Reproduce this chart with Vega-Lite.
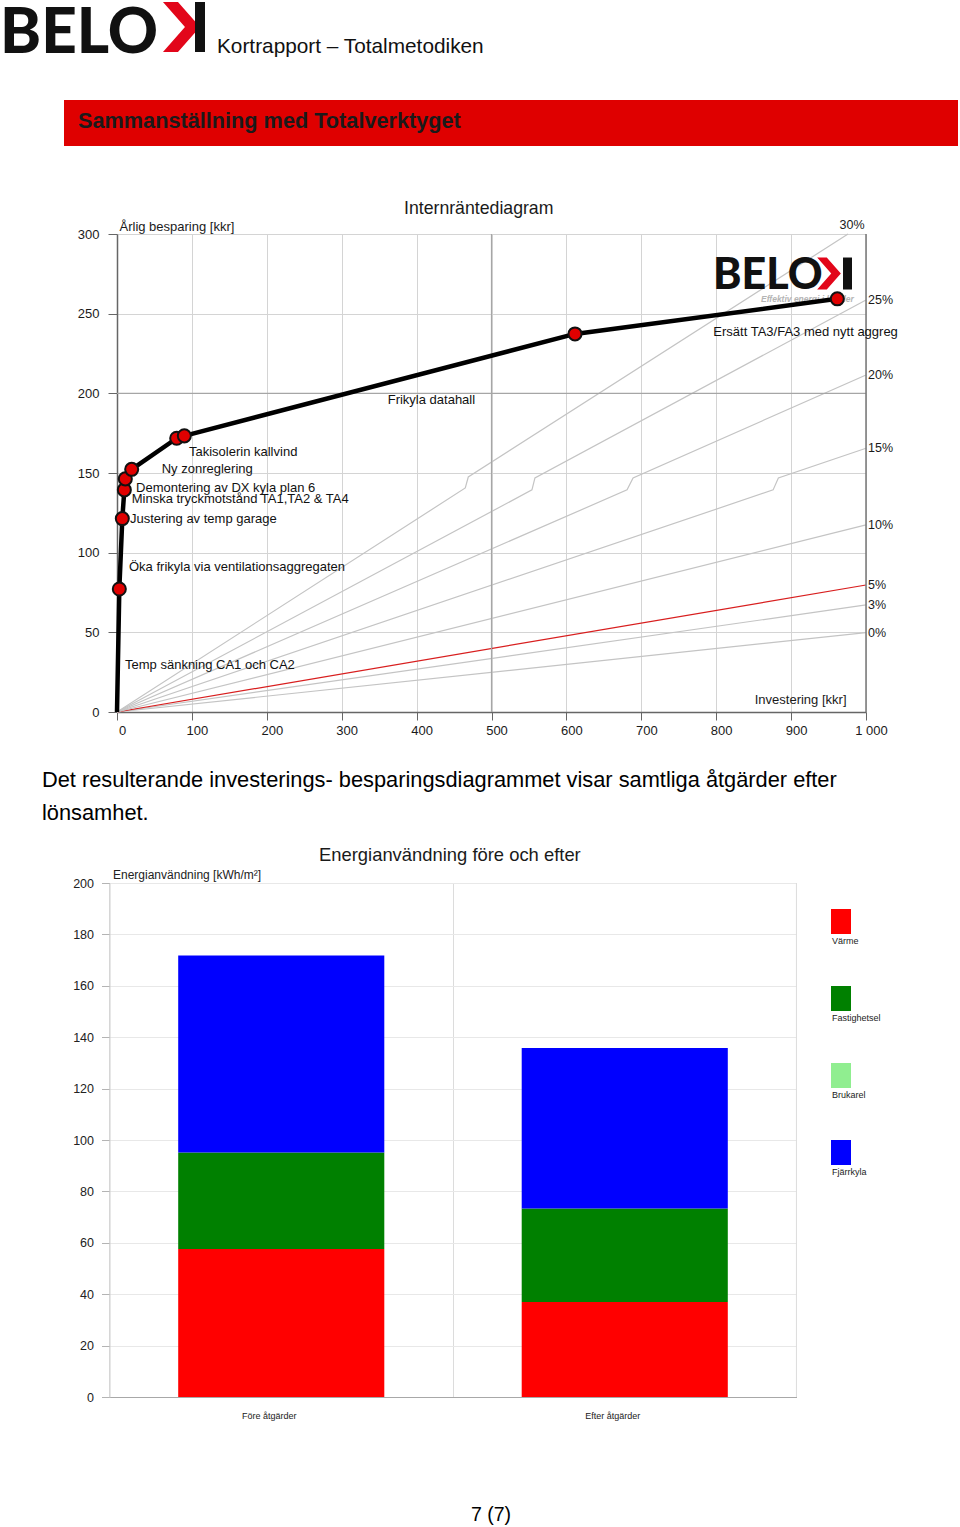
{
  "$schema": "https://vega.github.io/schema/vega-lite/v6.json",
  "padding": 0,
  "background": "white",
  "bounds": "flush",
  "spacing": 0,
  "resolve": {"scale": {"color": "independent"}},
  "config": {
    "view": {"stroke": null},
    "font": "Liberation Sans",
    "text": {"font": "Liberation Sans"},
    "axis": {"labelFont": "Liberation Sans", "titleFont": "Liberation Sans"}
  },
  "datasets": {
    "irr": [
      {"rate": "0%", "inv": 0, "sav": 0}, {"rate": "0%", "inv": 1000, "sav": 49.8},
      {"rate": "3%", "inv": 0, "sav": 0}, {"rate": "3%", "inv": 1000, "sav": 67.2},
      {"rate": "5%", "inv": 0, "sav": 0}, {"rate": "5%", "inv": 1000, "sav": 79.7},
      {"rate": "10%", "inv": 0, "sav": 0}, {"rate": "10%", "inv": 1000, "sav": 117.4},
      {"rate": "15%", "inv": 0, "sav": 0}, {"rate": "15%", "inv": 876, "sav": 139.4}, {"rate": "15%", "inv": 883, "sav": 146.9}, {"rate": "15%", "inv": 1000, "sav": 165.5},
      {"rate": "20%", "inv": 0, "sav": 0}, {"rate": "20%", "inv": 681, "sav": 139.4}, {"rate": "20%", "inv": 689, "sav": 146.9}, {"rate": "20%", "inv": 1000, "sav": 211.5},
      {"rate": "25%", "inv": 0, "sav": 0}, {"rate": "25%", "inv": 554, "sav": 139.4}, {"rate": "25%", "inv": 558, "sav": 146.9}, {"rate": "25%", "inv": 1000, "sav": 258.6},
      {"rate": "30%", "inv": 0, "sav": 0}, {"rate": "30%", "inv": 465, "sav": 140.6}, {"rate": "30%", "inv": 469, "sav": 147.5}, {"rate": "30%", "inv": 976, "sav": 300}
    ],
    "irrLabels": [
      {"rate": "30%", "inv": 962, "sav": 305.7},
      {"rate": "25%", "inv": 1000, "sav": 258.6},
      {"rate": "20%", "inv": 1000, "sav": 211.5},
      {"rate": "15%", "inv": 1000, "sav": 165.9},
      {"rate": "10%", "inv": 1000, "sav": 117.4},
      {"rate": "5%", "inv": 1000, "sav": 79.7},
      {"rate": "3%", "inv": 1000, "sav": 67.2},
      {"rate": "0%", "inv": 1000, "sav": 49.8}
    ],
    "path": [
      {"measure": "Start", "inv": 0, "sav": 0},
      {"measure": "Temp sänkning CA1 och CA2", "inv": 3.1, "sav": 77.2},
      {"measure": "Öka frikyla via ventilationsaggregaten", "inv": 7.1, "sav": 121.4},
      {"measure": "Justering av temp garage", "inv": 9.8, "sav": 139.4},
      {"measure": "Minska tryckmotstånd TA1,TA2 & TA4", "inv": 11.1, "sav": 146.3},
      {"measure": "Demontering av DX kyla plan 6", "inv": 19.6, "sav": 152.3},
      {"measure": "Ny zonreglering", "inv": 79.7, "sav": 171.8},
      {"measure": "Takisolerin kallvind", "inv": 89.9, "sav": 173.3},
      {"measure": "Frikyla datahall", "inv": 611.5, "sav": 237.3},
      {"measure": "Ersätt TA3/FA3 med nytt aggreg", "inv": 961.7, "sav": 259.3}
    ],
    "labels": [
      {"label": "Temp sänkning CA1 och CA2", "inv": 10.7, "sav": 29.5},
      {"label": "Öka frikyla via ventilationsaggregaten", "inv": 16.0, "sav": 91.0},
      {"label": "Justering av temp garage", "inv": 17.4, "sav": 121.1},
      {"label": "Minska tryckmotstånd TA1,TA2 & TA4", "inv": 19.6, "sav": 133.7},
      {"label": "Demontering av DX kyla plan 6", "inv": 25.4, "sav": 140.4},
      {"label": "Ny zonreglering", "inv": 59.7, "sav": 152.5},
      {"label": "Takisolerin kallvind", "inv": 96.1, "sav": 163.4},
      {"label": "Frikyla datahall", "inv": 361.4, "sav": 195.8},
      {"label": "Ersätt TA3/FA3 med nytt aggreg", "inv": 796.2, "sav": 238.7}
    ],
    "energy": [
      {"period": "Före åtgärder", "category": "Värme", "value": 57.6},
      {"period": "Före åtgärder", "category": "Fastighetsel", "value": 37.5},
      {"period": "Före åtgärder", "category": "Brukarel", "value": 0},
      {"period": "Före åtgärder", "category": "Fjärrkyla", "value": 76.7},
      {"period": "Efter åtgärder", "category": "Värme", "value": 37.0},
      {"period": "Efter åtgärder", "category": "Fastighetsel", "value": 36.3},
      {"period": "Efter åtgärder", "category": "Brukarel", "value": 0},
      {"period": "Efter åtgärder", "category": "Fjärrkyla", "value": 62.5}
    ],
    "categories": [
      {"category": "Värme", "rank": 1},
      {"category": "Fastighetsel", "rank": 2},
      {"category": "Brukarel", "rank": 3},
      {"category": "Fjärrkyla", "rank": 4}
    ]
  },
  "vconcat": [
    {
      "width": 960,
      "height": 234,
      "data": {"values": [{"banner": "Sammanställning med Totalverktyget", "header": "Kortrapport – Totalmetodiken", "logo": "BELO"}]},
      "encoding": {
        "x": {"datum": 0, "type": "quantitative", "scale": {"domain": [0, 1], "range": [64, 958]}, "axis": null},
        "y": {"datum": 0, "type": "quantitative", "scale": {"domain": [0, 1], "range": [146, 100]}, "axis": null}
      },
      "layer": [
        {"mark": {"type": "rect", "color": "#df0000"}, "encoding": {"x2": {"datum": 1}, "y2": {"datum": 1}}},
        {"mark": {"type": "text", "align": "left", "baseline": "alphabetic", "dx": 14, "dy": -18, "fontSize": 21.7, "fontWeight": "bold", "color": "#1a1a1a"}, "encoding": {"text": {"field": "banner"}}},
        {"mark": {"type": "text", "align": "left", "baseline": "alphabetic", "dx": 153, "dy": -93, "fontSize": 20.8, "color": "#111111"}, "encoding": {"text": {"field": "header"}}},
        {"mark": {"type": "text", "align": "left", "baseline": "alphabetic", "dx": -64, "dy": -93.5, "fontSize": 62, "fontWeight": 900, "font": "Lato", "color": "#111111"}, "encoding": {"text": {"field": "logo"}}},
        {"mark": {"type": "point", "shape": "M-0.74,-1L-0.14,-1L0.74,0L-0.14,1L-0.74,1L0.14,0Z", "size": 2500, "filled": true, "opacity": 1, "color": "#e2061a", "strokeWidth": 0}, "encoding": {"x": {"datum": 0.1314, "type": "quantitative"}, "y": {"datum": 2.587, "type": "quantitative"}}},
        {"mark": {"type": "point", "shape": "M-0.2,-1H0.2V1H-0.2Z", "size": 2500, "filled": true, "opacity": 1, "color": "#111111", "strokeWidth": 0}, "encoding": {"x": {"datum": 0.1521, "type": "quantitative"}, "y": {"datum": 2.587, "type": "quantitative"}}}
      ]
    },
    {
      "width": 866,
      "height": 478,
      "title": {"text": "Internräntediagram", "anchor": "start", "frame": "group", "dx": 404, "offset": 1, "fontSize": 17.7, "fontWeight": "normal", "color": "#1a1a1a", "font": "Liberation Sans"},
      "layer": [
        {
          "data": {"name": "irr"},
          "mark": {"type": "line", "strokeWidth": 1.2},
          "encoding": {
            "x": {"field": "inv", "type": "quantitative", "scale": {"domain": [0, 1000], "range": [117, 866], "nice": false, "zero": false},
              "axis": {"values": [0, 100, 200, 300, 400, 500, 600, 700, 800, 900, 1000], "labelExpr": "datum.value == 1000 ? '1 000' : datum.label", "tickSize": 8, "tickColor": "#666666", "domainColor": "#666666", "domainWidth": 1.5, "labelFontSize": 13, "labelColor": "#1a1a1a", "labelPadding": 4, "labelOffset": 5, "labelFlush": false, "labelOverlap": false, "grid": true, "gridColor": "#d4d4d4", "title": "Investering [kkr]", "titleX": 846, "titleY": -13, "titleAlign": "right", "titleBaseline": "middle", "titleFontSize": 13, "titleFontWeight": "normal", "titleColor": "#1a1a1a"}},
            "y": {"field": "sav", "type": "quantitative", "scale": {"domain": [0, 300], "nice": false},
              "axis": {"orient": "left", "offset": -117, "values": [0, 50, 100, 150, 200, 250, 300], "tickSize": 9, "tickColor": "#666666", "domainColor": "#666666", "domainWidth": 1.5, "labelFontSize": 13, "labelColor": "#1a1a1a", "labelPadding": 9, "labelFlush": false, "grid": true, "gridColor": "#d4d4d4", "title": "Årlig besparing [kkr]", "titleAngle": 0, "titleX": 2, "titleY": -8, "titleAlign": "left", "titleBaseline": "middle", "titleFontSize": 13, "titleFontWeight": "normal", "titleColor": "#1a1a1a"}},
            "detail": {"field": "rate"},
            "color": {"field": "rate", "type": "nominal", "scale": {"domain": ["0%", "3%", "5%", "10%", "15%", "20%", "25%", "30%"], "range": ["#c4c4c4", "#c4c4c4", "#d81e1e", "#c4c4c4", "#c4c4c4", "#c4c4c4", "#c4c4c4", "#c4c4c4"]}, "legend": null}
          }
        },
        {
          "data": {"values": [{}]},
          "mark": {"type": "rule", "color": "#a6a6a6", "strokeWidth": 1.2},
          "encoding": {"x": {"datum": 500, "type": "quantitative"}, "y": {"datum": 0, "type": "quantitative"}, "y2": {"datum": 300}}
        },
        {
          "data": {"values": [{}]},
          "mark": {"type": "rule", "color": "#a6a6a6", "strokeWidth": 1.2},
          "encoding": {"y": {"datum": 200, "type": "quantitative"}, "x": {"datum": 0, "type": "quantitative"}, "x2": {"datum": 1000}}
        },
        {
          "data": {"values": [{}]},
          "mark": {"type": "rule", "color": "#777777", "strokeWidth": 1.5},
          "encoding": {"x": {"datum": 1000, "type": "quantitative"}, "y": {"datum": 0, "type": "quantitative"}, "y2": {"datum": 300}}
        },
        {
          "data": {"values": [{}]},
          "layer": [
            {"mark": {"type": "text", "align": "left", "baseline": "alphabetic", "fontSize": 43, "fontWeight": 900, "font": "Lato", "color": "#111111"}, "encoding": {"x": {"datum": 795.7, "type": "quantitative"}, "y": {"datum": 265.5, "type": "quantitative"}, "text": {"value": "BELO"}}},
            {"mark": {"type": "point", "shape": "M-0.74,-1L-0.14,-1L0.74,0L-0.14,1L-0.74,1L0.14,0Z", "size": 1024, "filled": true, "opacity": 1, "color": "#e2061a", "strokeWidth": 0}, "encoding": {"x": {"datum": 950.6, "type": "quantitative"}, "y": {"datum": 275.2, "type": "quantitative"}}},
            {"mark": {"type": "point", "shape": "M-0.28,-1H0.28V1H-0.28Z", "size": 1024, "filled": true, "opacity": 1, "color": "#111111", "strokeWidth": 0}, "encoding": {"x": {"datum": 975.3, "type": "quantitative"}, "y": {"datum": 275.2, "type": "quantitative"}}},
            {"mark": {"type": "text", "align": "left", "baseline": "alphabetic", "dx": 48, "dy": 13, "fontSize": 8.5, "fontWeight": "bold", "fontStyle": "italic", "color": "#b4b4b4"}, "encoding": {"x": {"datum": 795.7, "type": "quantitative"}, "y": {"datum": 265.5, "type": "quantitative"}, "text": {"value": "Effektiv energi i lokaler"}}}
          ]
        },
        {
          "data": {"name": "path"},
          "mark": {"type": "line", "color": "#000000", "strokeWidth": 4.5, "strokeJoin": "round"},
          "encoding": {"x": {"field": "inv", "type": "quantitative"}, "y": {"field": "sav", "type": "quantitative"}}
        },
        {
          "data": {"name": "path"},
          "transform": [{"filter": "datum.inv > 0"}],
          "mark": {"type": "point", "shape": "circle", "filled": true, "fill": "#e00000", "stroke": "#111111", "strokeWidth": 2, "size": 170, "opacity": 1},
          "encoding": {"x": {"field": "inv", "type": "quantitative"}, "y": {"field": "sav", "type": "quantitative"}}
        },
        {
          "data": {"name": "labels"},
          "mark": {"type": "text", "align": "left", "baseline": "middle", "fontSize": 13, "color": "#111111"},
          "encoding": {"x": {"field": "inv", "type": "quantitative"}, "y": {"field": "sav", "type": "quantitative"}, "text": {"field": "label"}}
        },
        {
          "data": {"name": "irrLabels"},
          "mark": {"type": "text", "align": "left", "baseline": "middle", "dx": 2, "fontSize": 12.5, "color": "#1a1a1a"},
          "encoding": {"x": {"field": "inv", "type": "quantitative"}, "y": {"field": "sav", "type": "quantitative"}, "text": {"field": "rate"}}
        }
      ]
    },
    {
      "width": 960,
      "height": 171,
      "data": {"values": [{"t": ["Det resulterande investerings- besparingsdiagrammet visar samtliga åtgärder efter", "lönsamhet."]}]},
      "mark": {"type": "text", "align": "left", "baseline": "alphabetic", "dx": -438, "dy": -10.5, "fontSize": 21.8, "lineHeight": 33, "color": "#000000"},
      "encoding": {"text": {"field": "t"}}
    },
    {
      "width": 796.5,
      "height": 514,
      "title": {"text": "Energianvändning före och efter", "anchor": "start", "frame": "group", "dx": 319, "offset": 4, "fontSize": 18.4, "fontWeight": "normal", "color": "#1a1a1a", "font": "Liberation Sans"},
      "resolve": {"scale": {"x": "independent", "y": "independent"}},
      "layer": [
        {
          "layer": [
            {
              "data": {"name": "energy"},
              "transform": [{"lookup": "category", "from": {"data": {"name": "categories"}, "key": "category", "fields": ["rank"]}}],
              "mark": {"type": "bar"},
              "encoding": {
                "x": {"field": "period", "type": "nominal", "sort": ["Före åtgärder", "Efter åtgärder"], "scale": {"range": [109.5, 796.5], "paddingInner": 0.4, "paddingOuter": 0.2},
                  "axis": {"bandPosition": -0.3333, "ticks": false, "grid": true, "gridColor": "#dcdcdc", "domainColor": "#a8a8a8", "labelFontSize": 9, "labelColor": "#222222", "labelPadding": 14, "labelOffset": -12, "labelAngle": 0, "title": null}},
                "y": {"field": "value", "type": "quantitative", "stack": "zero", "scale": {"domain": [0, 200], "nice": false},
                  "axis": {"orient": "left", "offset": -109.5, "values": [0, 20, 40, 60, 80, 100, 120, 140, 160, 180, 200], "tickSize": 8, "tickColor": "#b4b4b4", "domainColor": "#d0d0d0", "gridColor": "#e8e8e8", "labelFontSize": 12.5, "labelColor": "#222222", "labelPadding": 8, "labelFlush": false, "title": "Energianvändning [kWh/m²]", "titleAngle": 0, "titleAlign": "left", "titleBaseline": "middle", "titleX": 3, "titleY": -9, "titleFontSize": 12, "titleFontWeight": "normal", "titleColor": "#222222"}},
                "color": {"field": "category", "type": "nominal", "scale": {"domain": ["Värme", "Fastighetsel", "Brukarel", "Fjärrkyla"], "range": ["#ff0000", "#008000", "#90ee90", "#0000ff"]}, "legend": null},
                "order": {"field": "rank", "type": "quantitative"}
              }
            },
            {
              "data": {"values": [{}]},
              "mark": {"type": "rule", "color": "#dcdcdc"},
              "encoding": {"x": {"datum": "Efter åtgärder", "type": "nominal", "bandPosition": 1.333}, "y": {"datum": 0, "type": "quantitative"}, "y2": {"datum": 200}}
            }
          ]
        },
        {
          "data": {"name": "categories"},
          "encoding": {
            "x": {"datum": 0.5, "type": "quantitative", "scale": {"domain": [0, 1], "range": [831, 851]}, "axis": null},
            "y": {"field": "category", "type": "nominal", "sort": {"field": "rank"}, "scale": {"type": "point", "range": [38.5, 269.5], "padding": 0}, "axis": null}
          },
          "layer": [
            {
              "mark": {"type": "point", "shape": "M-1,-1.25H1V1.25H-1Z", "size": 400, "filled": true, "opacity": 1, "strokeWidth": 0},
              "encoding": {"color": {"field": "category", "type": "nominal", "scale": {"domain": ["Värme", "Fastighetsel", "Brukarel", "Fjärrkyla"], "range": ["#ff0000", "#008000", "#90ee90", "#0000ff"]}, "legend": null}}
            },
            {
              "mark": {"type": "text", "align": "left", "baseline": "top", "dx": -9, "dy": 15, "fontSize": 9, "color": "#222222"},
              "encoding": {"text": {"field": "category"}}
            }
          ]
        }
      ]
    },
    {
      "width": 960,
      "height": 130,
      "data": {"values": [{"t": "7 (7)"}]},
      "mark": {"type": "text", "align": "center", "baseline": "alphabetic", "dx": 11, "dy": 59, "fontSize": 19.5, "color": "#000000"},
      "encoding": {"text": {"field": "t"}}
    }
  ]
}
